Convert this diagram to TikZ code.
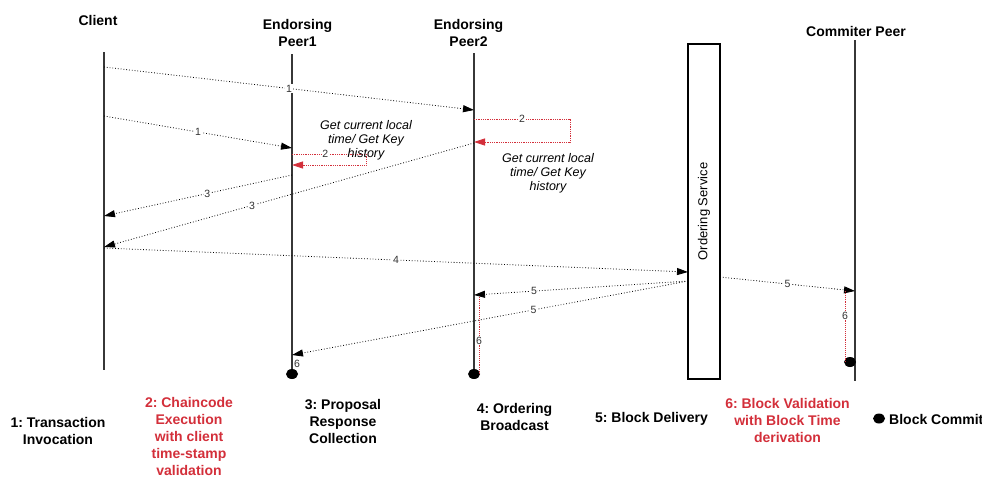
\documentclass[tikz,border=0pt]{standalone}
\usepackage{fontspec}
\setmainfont{Liberation Sans}
\usetikzlibrary{arrows.meta,shapes.geometric}
\definecolor{redc}{RGB}{211,47,58}
\definecolor{lifeg}{RGB}{55,55,55}
\definecolor{lblg}{RGB}{50,50,50}
\frenchspacing
\begin{document}
\begin{tikzpicture}[x=1pt,y=-1pt,
  title/.style={font=\fontsize{14}{17}\selectfont\bfseries, align=center, inner sep=0pt},
  life/.style={draw=lifeg, line width=1.3pt},
  msg/.style={dotted, line width=0.8pt, -{Triangle[length=11pt,width=7pt]}},
  redmsg/.style={densely dotted, draw=redc, line width=0.8pt, -{Triangle[length=11pt,width=7pt,fill=redc]}},
  redline/.style={densely dotted, draw=redc, line width=0.9pt},
  lbl/.style={font=\fontsize{10.5}{12}\selectfont, text=lblg, fill=white, inner sep=0.6pt},
  note/.style={font=\fontsize{12.5}{14}\selectfont\itshape, align=center, inner sep=0pt},
  blob/.style={ellipse, fill=black, minimum width=12pt, minimum height=10pt, inner sep=0pt}
]
\useasboundingbox (0,0) rectangle (982,477);

% titles
\node[title] (tc) at (98,20) {Client};
\node[title] (tp1) at (297.5,32.5) {Endorsing\\Peer1};
\node[title] (tp2) at (468.5,32.5) {Endorsing\\Peer2};
\node[title] (tcp) at (856,31) {Commiter Peer};

% lifelines
\coordinate (cT) at (104,52);  \coordinate (cB) at (104,370);
\coordinate (aT) at (292,54);  \coordinate (aB) at (292,372);
\coordinate (bT) at (474,53);  \coordinate (bB) at (474,372);
\coordinate (mT) at (855,40);  \coordinate (mB) at (855,381);
\draw[life] (cT) -- (cB);
\draw[life] (aT) -- (aB);
\draw[life] (bT) -- (bB);
\draw[life] (mT) -- (mB);

% ordering service
\node[draw=black, line width=1.2pt, minimum width=32pt, minimum height=335pt, inner sep=0pt] (os) at (704,211.5) {};
\node[rotate=90, font=\fontsize{13}{15}\selectfont, inner sep=0pt] (ost) at (os.center) {Ordering Service};

% end dots
\node[blob] (da) at (292,374) {};
\node[blob] (db) at (474,374) {};
\node[blob] (dm) at (850,362) {};

% message endpoints
\coordinate (c1) at (104,67);   \coordinate (b1) at (474,110);
\coordinate (c2) at (104,116);  \coordinate (a1) at (292,148);
\coordinate (a2) at (292,154);  \coordinate (a2r) at (366,154);
\coordinate (a3r) at (366,165); \coordinate (a3) at (292,165);
\coordinate (b2) at (474,119);  \coordinate (b2r) at (570,119);
\coordinate (b3r) at (570,142); \coordinate (b3) at (474,142);
\coordinate (a4) at (292,175);  \coordinate (c3) at (104,216);
\coordinate (b4) at (474,143);  \coordinate (c4) at (104,247);
\coordinate (c5) at (104,248);  \coordinate (o1) at (688,272);
\coordinate (o2) at (688,281);  \coordinate (b5) at (474,295);
\coordinate (a5) at (292,355);
\coordinate (o3) at (720,277);  \coordinate (m1) at (855,291);
\coordinate (b6) at (479,297);  \coordinate (b7) at (479,374);
\coordinate (m2) at (845,291);  \coordinate (m3) at (845,362);

% step 1
\draw[msg] (c1) -- node[lbl, pos=0.5] {1} (b1);
\draw[msg] (c2) -- node[lbl, pos=0.5] {1} (a1);
% step 2
\draw[redmsg] (a2) -- node[lbl, pos=0.45] {2} (a2r) -- (a3r) -- (a3);
\draw[redmsg] (b2) -- node[lbl, pos=0.5] {2} (b2r) -- (b3r) -- (b3);
\node[note] (n1) at (366,140) {Get current local\\time/ Get Key\\history};
\node[note] (n2) at (548,173) {Get current local\\time/ Get Key\\history};
% step 3
\draw[msg] (a4) -- node[lbl, pos=0.45] {3} (c3);
\draw[msg] (b4) -- node[lbl, pos=0.6] {3} (c4);
% step 4
\draw[msg] (c5) -- node[lbl, pos=0.5] {4} (o1);
% step 5
\draw[msg] (o2) -- node[lbl, pos=0.72] {5} (b5);
\draw[msg] (o2) -- node[lbl, pos=0.39] {5} (a5);
\draw[msg] (o3) -- node[lbl, pos=0.5] {5} (m1);
% step 6
\draw[redline] (b6) -- node[lbl, pos=0.57] {6} (b7);
\draw[redline] (m2) -- node[lbl, pos=0.35] {6} (m3);
\node[lbl, fill=none] (l6a) at (297,364) {6};

% legend
\node[title] (L1) at (58,431) {1: Transaction\\Invocation};
\node[title, text=redc] (L2) at (189,436.5) {2: Chaincode\\Execution\\with client\\time-stamp\\validation};
\node[title] (L3) at (343,421) {3: Proposal\\Response\\Collection};
\node[title] (L4) at (514.5,416.5) {4: Ordering\\Broadcast};
\node[title] (L5) at (651.5,419) {5: Block Delivery};
\node[title, text=redc] (L6) at (787.5,420.5) {6: Block Validation\\with Block Time\\derivation};
\node[blob] (Ld) at (879,418.5) {};
\node[title, anchor=west] (L7) at (889,419) {Block Commit};
\end{tikzpicture}
\end{document}
